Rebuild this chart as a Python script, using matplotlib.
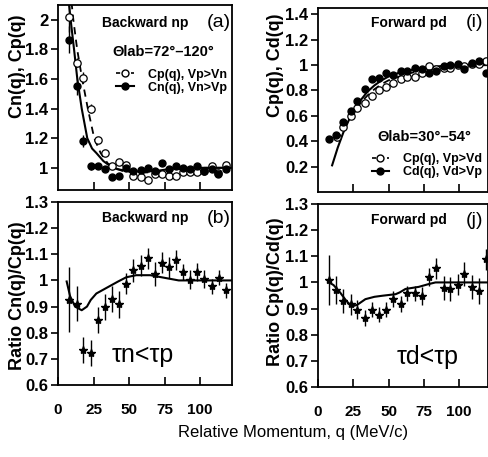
import numpy as np
import matplotlib
matplotlib.use("Agg")
import matplotlib.pyplot as plt
from matplotlib.lines import Line2D
from matplotlib.legend_handler import HandlerLine2D

plt.rcParams['font.family'] = ['Liberation Sans', 'DejaVu Sans']

# ---- panel (a): backward np correlation functions ----
q_a = [8.0, 13.4, 17.8, 23.0, 28.0, 33.1, 38.2, 43.0, 47.7, 53.0, 58.2, 63.1, 68.3, 73.1,
       78.2, 82.9, 88.3, 93.0, 97.6, 102.8, 108.2, 112.9, 118.3]
cp_a = [2.02, 1.71, 1.61, 1.40, 1.19, 1.10, 1.01, 1.04, 1.02, 0.945, 0.94, 0.92, 0.96, 0.96,
        0.945, 0.945, 0.97, 0.975, 0.97, 0.98, 1.01, 0.965, 1.02]
cp_a_err = [0.10, 0.03, 0.04, 0.03, 0.02, 0.015, 0, 0, 0, 0, 0, 0, 0, 0, 0, 0, 0, 0, 0, 0, 0, 0, 0]
cn_a = [1.865, 1.55, 1.18, 1.01, 1.01, 0.99, 0.94, 0.945, 1.0, 0.98, 0.985, 1.0, 0.98, 1.03,
        0.99, 1.01, 1.0, 0.99, 1.01, 0.98, 0.99, 0.96, 0.99]
cn_a_err = [0.09, 0.06, 0.04, 0.025, 0.02, 0, 0, 0, 0, 0, 0, 0, 0, 0, 0, 0, 0, 0, 0, 0, 0, 0, 0]
fit_cp_a_q = [9.5, 10.8, 13.5, 17.0, 21.0, 25.5, 30.0, 35.0, 40.0, 45.0, 55.0, 65.0, 80.0, 95.0, 122.0]
fit_cp_a = [2.12, 2.0, 1.8, 1.6, 1.4, 1.2, 1.1, 1.03, 1.0, 0.98, 0.965, 0.97, 0.985, 1.0, 1.0]
fit_cn_a_q = [7.6, 8.9, 11.3, 13.6, 16.7, 20.6, 24.0, 27.0, 32.0, 37.0, 42.0, 50.0, 60.0, 70.0, 85.0, 122.0]
fit_cn_a = [2.12, 2.0, 1.8, 1.6, 1.4, 1.2, 1.13, 1.1, 1.045, 1.01, 0.99, 0.977, 0.975, 0.98, 1.0, 1.0]

# ---- panel (i): forward pd correlation functions ----
q_i = [7.8, 12.8, 18.0, 23.2, 27.9, 33.4, 38.1, 43.3, 48.3, 53.5, 58.7, 63.4, 68.9, 73.6,
       78.8, 83.7, 89.0, 93.8, 99.0, 103.8, 109.2, 114.4, 119.3]
cd_i = [0.42, 0.45, 0.55, 0.64, 0.72, 0.81, 0.89, 0.895, 0.937, 0.92, 0.955, 0.955, 0.976, 0.97,
        0.94, 0.955, 0.995, 1.0, 1.01, 0.97, 1.02, 1.03, 0.937]
q_i_open = [13.8, 18.0, 23.2, 27.9, 33.4, 38.1, 43.3, 48.3, 53.5, 58.7, 63.4, 68.9, 73.6,
            78.8, 83.7, 89.0, 93.8, 99.0, 103.8, 109.2, 114.4, 119.3]
cp_i = [0.43, 0.51, 0.60, 0.66, 0.70, 0.76, 0.80, 0.83, 0.86, 0.89, 0.91, 0.91, 0.94,
        0.99, 0.97, 0.98, 0.98, 1.0, 0.995, 1.01, 1.01, 1.03]
fit_cd_i_q = [10.0, 14.0, 18.0, 22.0, 26.0, 30.0, 35.0, 40.0, 45.0, 50.0, 60.0, 70.0, 80.0, 90.0, 100.0, 121.0]
fit_cd_i = [0.21, 0.35, 0.47, 0.57, 0.65, 0.72, 0.79, 0.84, 0.88, 0.91, 0.95, 0.97, 0.985, 0.995, 1.0, 1.0]
fit_cp_i_q = [13.0, 18.0, 22.0, 26.0, 30.0, 35.0, 40.0, 45.0, 50.0, 60.0, 70.0, 80.0, 90.0, 100.0, 121.0]
fit_cp_i = [0.40, 0.50, 0.57, 0.64, 0.70, 0.76, 0.81, 0.85, 0.88, 0.92, 0.95, 0.97, 0.99, 1.0, 1.01]

# ---- panel (b): ratio Cn/Cp ----
q_b = [8.0, 13.2, 17.8, 23.0, 28.0, 33.1, 38.2, 43.0, 47.8, 53.0, 58.2, 63.1, 68.3, 73.5,
       78.2, 83.1, 88.3, 93.0, 98.2, 102.8, 108.2, 113.4, 118.3]
r_b = [0.927, 0.911, 0.734, 0.724, 0.85, 0.90, 0.93, 0.908, 0.987, 1.038, 1.056, 1.085, 1.025, 1.068,
       1.051, 1.078, 1.032, 1.003, 1.033, 1.006, 0.977, 1.011, 0.962]
r_b_err = [0.125, 0.067, 0.05, 0.05, 0.05, 0.05, 0.05, 0.05, 0.04, 0.045, 0.04, 0.04, 0.045, 0.04,
           0.04, 0.04, 0.03, 0.035, 0.035, 0.035, 0.03, 0.03, 0.03]
fit_b_q = [6.1, 8.5, 12.0, 16.7, 20.4, 23.0, 27.0, 32.0, 37.0, 42.0, 48.0, 55.0, 65.0, 75.0, 85.0, 122.0]
fit_b = [0.996, 0.94, 0.90, 0.886, 0.90, 0.925, 0.95, 0.965, 0.98, 0.995, 1.012, 1.02, 1.02, 1.01, 1.0, 1.0]

# ---- panel (j): ratio Cp/Cd ----
q_j = [7.8, 12.8, 18.0, 23.2, 27.9, 33.4, 38.1, 43.3, 48.3, 53.5, 58.7, 63.4, 68.9, 73.6,
       78.8, 83.7, 89.0, 93.8, 99.0, 103.8, 109.2, 114.4, 119.3]
r_j = [1.009, 0.971, 0.928, 0.917, 0.896, 0.864, 0.896, 0.877, 0.896, 0.936, 0.917, 0.958, 0.958, 0.949,
       1.022, 1.055, 0.978, 0.975, 0.991, 1.032, 0.983, 0.966, 1.089]
r_j_err = [0.095, 0.055, 0.045, 0.04, 0.035, 0.03, 0.03, 0.03, 0.03, 0.03, 0.03, 0.03, 0.03, 0.035,
           0.035, 0.04, 0.045, 0.045, 0.04, 0.045, 0.045, 0.05, 0.04]
fit_j_q = [7.8, 11.0, 15.6, 20.0, 24.0, 28.0, 33.6, 40.0, 45.5, 55.0, 58.0, 62.0, 71.4, 78.0, 83.3, 121.0]
fit_j = [1.0, 0.99, 0.962, 0.93, 0.908, 0.915, 0.936, 0.945, 0.949, 0.955, 0.962, 0.975, 0.983, 0.993, 1.0, 1.0]

W, H = 489, 457
fig = plt.figure(figsize=(W / 100, H / 100), dpi=100)


class EndMarker(HandlerLine2D):
    # line on the left part of the handle, marker at its right end
    def get_xdata(self, legend, xdescent, ydescent, width, height, fontsize):
        return [-xdescent, -xdescent + width * 0.62], [-xdescent + width * 0.88]


def add_ax(left, right, top, bottom):
    return fig.add_axes([left / W, 1 - bottom / H, (right - left) / W, (bottom - top) / H])


def style(ax, xlim, ylim, yticks, ylabels, xlabels=True):
    ax.set_xlim(*xlim)
    ax.set_ylim(*ylim)
    ax.set_yticks(yticks)
    ax.set_yticklabels(ylabels)
    if xlabels:
        ax.set_xticks([0, 25, 50, 75, 100])
        ax.set_xticklabels(['0', '25', '50', '75', '100'])
    else:
        ax.set_xticks([25, 50, 75, 100])
        ax.set_xticklabels([])
    ax.tick_params(axis='x', direction='in', length=6, width=1.2, pad=13, labelsize=11)
    ax.tick_params(axis='y', direction='out', length=5, width=1.2, pad=2, labelsize=12)
    for lab in ax.get_xticklabels() + ax.get_yticklabels():
        lab.set_fontweight('bold')
    for s in ax.spines.values():
        s.set_linewidth(1.3)


def legend(ax, labels, anchor):
    ha = Line2D([], [], color='black', lw=1.2, ls=(0, (2.5, 2)), marker='o', mfc='white', mec='black', ms=5)
    hb = Line2D([], [], color='black', lw=1.5, marker='o', mfc='black', mec='black', ms=5)
    leg = ax.legend([ha, hb], labels, loc='upper left', bbox_to_anchor=anchor,
                    frameon=False, fontsize=9, handlelength=2.2, handletextpad=0.3, labelspacing=0.1,
                    borderpad=0, numpoints=1, handler_map={Line2D: EndMarker()})
    for t in leg.get_texts():
        t.set_fontweight('bold')


ax_a = add_ax(58, 232, 5, 190)
ax_i = add_ax(318, 488, 8, 192)
ax_b = add_ax(58, 232, 202, 385)
ax_j = add_ax(318, 488, 204, 387)

# (a)
ax_a.plot(fit_cp_a_q, fit_cp_a, color='black', lw=1.3, ls=(0, (4, 3)))
ax_a.plot(fit_cn_a_q, fit_cn_a, color='black', lw=1.5)
ax_a.errorbar(q_a, cp_a, yerr=cp_a_err, fmt='o', mfc='white', mec='black', mew=0.9, ms=5.3,
              ecolor='black', elinewidth=1, capsize=0)
ax_a.errorbar(q_a, cn_a, yerr=cn_a_err, fmt='o', mfc='black', mec='black', ms=5,
              ecolor='black', elinewidth=1, capsize=0)
style(ax_a, (0, 122.5), (0.85, 2.1), [1, 1.2, 1.4, 1.6, 1.8, 2], ['1', '1.2', '1.4', '1.6', '1.8', '2'], False)
ax_a.text(0.75, 0.905, 'Backward np', transform=ax_a.transAxes, ha='right', va='center',
          fontsize=10, fontweight='bold')
ax_a.text(0.995, 0.905, '(a)', transform=ax_a.transAxes, ha='right', va='center', fontsize=14)
ax_a.text(0.31, 0.745, 'Θlab=72°–120°', transform=ax_a.transAxes, ha='left', va='center',
          fontsize=10.5, fontweight='bold')
legend(ax_a, ['Cp(q), Vp>Vn', 'Cn(q), Vn>Vp'], (0.30, 0.69))

# (i)
ax_i.plot(fit_cp_i_q, fit_cp_i, color='black', lw=1.3, ls=(0, (4, 3)))
ax_i.plot(fit_cd_i_q, fit_cd_i, color='black', lw=1.5)
ax_i.plot(q_i_open, cp_i, 'o', mfc='white', mec='black', mew=0.9, ms=5.3)
ax_i.plot(q_i, cd_i, 'o', mfc='black', mec='black', ms=5)
style(ax_i, (0, 120.5), (0.0, 1.45), [0.2, 0.4, 0.6, 0.8, 1, 1.2, 1.4],
      ['0.2', '0.4', '0.6', '0.8', '1', '1.2', '1.4'], False)
ax_i.text(0.76, 0.92, 'Forward pd', transform=ax_i.transAxes, ha='right', va='center',
          fontsize=10, fontweight='bold')
ax_i.text(0.975, 0.92, '(i)', transform=ax_i.transAxes, ha='right', va='center', fontsize=14)
ax_i.text(0.35, 0.30, 'Θlab=30°–54°', transform=ax_i.transAxes, ha='left', va='center',
          fontsize=10.5, fontweight='bold')
legend(ax_i, ['Cp(q), Vp>Vd', 'Cd(q), Vd>Vp'], (0.28, 0.245))

# (b)
ax_b.plot(fit_b_q, fit_b, color='black', lw=1.5)
ax_b.errorbar(q_b, r_b, yerr=r_b_err, fmt='*', mfc='black', mec='black', ms=6,
              ecolor='black', elinewidth=1, capsize=0)
style(ax_b, (0, 122.5), (0.6, 1.3), [0.6, 0.7, 0.8, 0.9, 1, 1.1, 1.2, 1.3],
      ['0.6', '0.7', '0.8', '0.9', '1', '1.1', '1.2', '1.3'])
ax_b.text(0.75, 0.91, 'Backward np', transform=ax_b.transAxes, ha='right', va='center',
          fontsize=10, fontweight='bold')
ax_b.text(0.995, 0.91, '(b)', transform=ax_b.transAxes, ha='right', va='center', fontsize=14)
ax_b.text(0.31, 0.165, 'τn<τp', transform=ax_b.transAxes, ha='left', va='center', fontsize=18)

# (j)
ax_j.plot(fit_j_q, fit_j, color='black', lw=1.5)
ax_j.errorbar(q_j, r_j, yerr=r_j_err, fmt='*', mfc='black', mec='black', ms=6,
              ecolor='black', elinewidth=1, capsize=0)
style(ax_j, (0, 120.5), (0.6, 1.3), [0.6, 0.7, 0.8, 0.9, 1, 1.1, 1.2, 1.3],
      ['0.6', '0.7', '0.8', '0.9', '1', '1.1', '1.2', '1.3'])
ax_j.text(0.76, 0.91, 'Forward pd', transform=ax_j.transAxes, ha='right', va='center',
          fontsize=10, fontweight='bold')
ax_j.text(0.975, 0.91, '(j)', transform=ax_j.transAxes, ha='right', va='center', fontsize=14)
ax_j.text(0.465, 0.165, 'τd<τp', transform=ax_j.transAxes, ha='left', va='center', fontsize=18)

# axis titles
fig.text(18 / W, 1 - 66 / H, 'Cn(q), Cp(q)', rotation=90, ha='center', va='center',
         fontsize=13, fontweight='bold')
fig.text(18 / W, 1 - 296 / H, 'Ratio Cn(q)/Cp(q)', rotation=90, ha='center', va='center',
         fontsize=13, fontweight='bold')
fig.text(276 / W, 1 - 65 / H, 'Cp(q), Cd(q)', rotation=90, ha='center', va='center',
         fontsize=13, fontweight='bold')
fig.text(276 / W, 1 - 292 / H, 'Ratio Cp(q)/Cd(q)', rotation=90, ha='center', va='center',
         fontsize=13, fontweight='bold')
fig.text(293 / W, 1 - 433 / H, 'Relative Momentum, q (MeV/c)', ha='center', va='center', fontsize=12)

fig.savefig('out.png', dpi=100)
